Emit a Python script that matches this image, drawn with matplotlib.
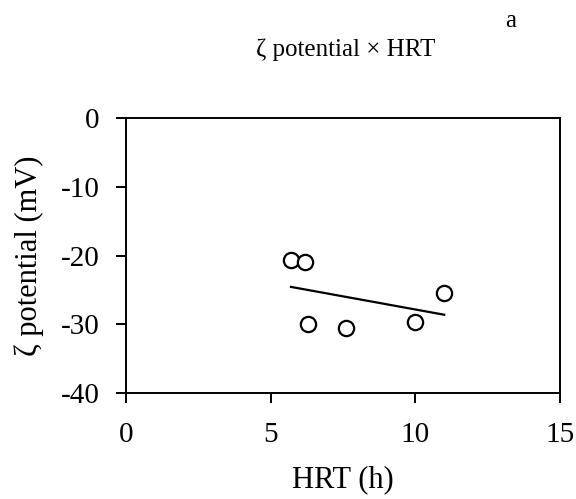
import numpy as np
import matplotlib
matplotlib.use("Agg")
import matplotlib.pyplot as plt

plt.rcParams['font.family'] = ['Liberation Serif', 'DejaVu Serif']
plt.rcParams['axes.unicode_minus'] = False

# data
hrt = [5.7, 6.2, 6.3, 7.6, 10.0, 11.0]
zeta = [-20.6, -20.9, -30.0, -30.5, -29.6, -25.4]

fig = plt.figure(figsize=(5.76, 4.99), dpi=100)
ax = fig.add_axes([0.219, 0.2124, 0.753, 0.551])

ax.plot(hrt, zeta, 'o', mfc='white', mec='black', ms=11, mew=1.6, zorder=3)

# linear trend line over the data range
slope, icpt = np.polyfit(hrt, zeta, 1)
xl = np.array([min(hrt), max(hrt)])
ax.plot(xl, slope * xl + icpt, color='black', lw=1.6)

ax.set_xlim(0, 15)
ax.set_ylim(-40, 0)
ax.set_xticks([0, 5, 10, 15])
ax.set_yticks([0, -10, -20, -30, -40])
ax.tick_params(direction='out', length=7, width=1.4, labelsize=21)
ax.tick_params(axis='x', pad=14)
ax.tick_params(axis='y', pad=12)
for s in ax.spines.values():
    s.set_linewidth(1.4)

ax.set_xlabel('HRT (h)', fontsize=22, labelpad=12)
ax.set_ylabel('ζ potential (mV)', fontsize=22, labelpad=12)

fig.text(0.601, 0.90, 'ζ potential × HRT', fontsize=18, ha='center', va='center')
fig.text(0.887, 0.958, 'a', fontsize=18, ha='center', va='center')

fig.savefig('out.png', dpi=100)
